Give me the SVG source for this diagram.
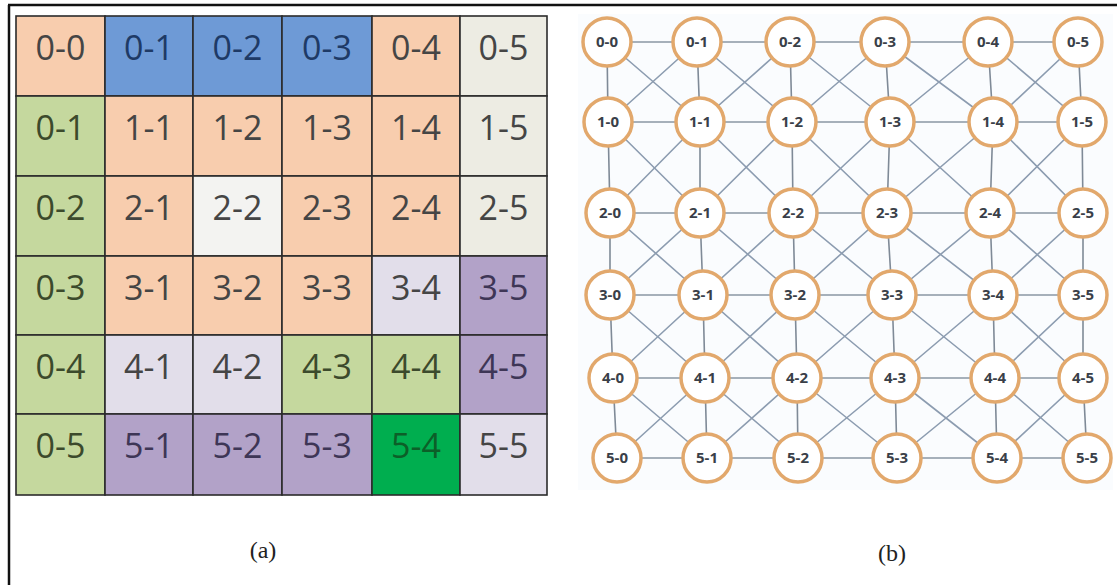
<svg xmlns="http://www.w3.org/2000/svg" width="1117" height="585" viewBox="0 0 1117 585">
<style>
.cell rect{stroke:#2b2b2b;stroke-width:1.6}
.cell text{font-family:"Open Sans","Noto Sans",sans-serif;font-size:34px;text-anchor:middle;fill:#454545}
.pe rect{fill:#F8CDAE}.bl rect{fill:#6E9AD6}.gr rect{fill:#C5D89E}.be rect{fill:#EDECE3}
.wh rect{fill:#F3F3F1}.lv rect{fill:#E2DEEA}.pu rect{fill:#B2A2C8}.bg rect{fill:#00AE4F}
.bl text{fill:#1E3A66}.gr text{fill:#3C4A2C}.pu text{fill:#3E3656}.bg text{fill:#0C5F28}
.node circle{fill:#ffffff;stroke:#E2A86C;stroke-width:3.5}
.node text{font-family:"Open Sans","Noto Sans",sans-serif;font-size:15px;font-weight:bold;text-anchor:middle;fill:#3a3f48}
.cap{font-family:"Liberation Serif",serif;font-size:24px;text-anchor:middle;fill:#222}
</style>
<rect width="1117" height="585" fill="#ffffff"/>
<line x1="8" y1="5" x2="1117" y2="5" stroke="#111" stroke-width="2.5"/>
<line x1="9" y1="5" x2="9" y2="585" stroke="#111" stroke-width="2.5"/>
<rect x="578" y="14" width="535" height="476" fill="#FAFCFE"/>
<g id="grid">
<g id="cell-r0-c0" class="cell pe"><rect x="16" y="16" width="89" height="80"/><text x="60.5" y="60">0-0</text></g>
<g id="cell-r0-c1" class="cell bl"><rect x="105" y="16" width="88" height="80"/><text x="149" y="60">0-1</text></g>
<g id="cell-r0-c2" class="cell bl"><rect x="193" y="16" width="89" height="80"/><text x="237.5" y="60">0-2</text></g>
<g id="cell-r0-c3" class="cell bl"><rect x="282" y="16" width="90" height="80"/><text x="327" y="60">0-3</text></g>
<g id="cell-r0-c4" class="cell pe"><rect x="372" y="16" width="88" height="80"/><text x="416" y="60">0-4</text></g>
<g id="cell-r0-c5" class="cell be"><rect x="460" y="16" width="87" height="80"/><text x="503.5" y="60">0-5</text></g>

<g id="cell-r1-c0" class="cell gr"><rect x="16" y="96" width="89" height="80"/><text x="60.5" y="140">0-1</text></g>
<g id="cell-r1-c1" class="cell pe"><rect x="105" y="96" width="88" height="80"/><text x="149" y="140">1-1</text></g>
<g id="cell-r1-c2" class="cell pe"><rect x="193" y="96" width="89" height="80"/><text x="237.5" y="140">1-2</text></g>
<g id="cell-r1-c3" class="cell pe"><rect x="282" y="96" width="90" height="80"/><text x="327" y="140">1-3</text></g>
<g id="cell-r1-c4" class="cell pe"><rect x="372" y="96" width="88" height="80"/><text x="416" y="140">1-4</text></g>
<g id="cell-r1-c5" class="cell be"><rect x="460" y="96" width="87" height="80"/><text x="503.5" y="140">1-5</text></g>

<g id="cell-r2-c0" class="cell gr"><rect x="16" y="176" width="89" height="80"/><text x="60.5" y="220">0-2</text></g>
<g id="cell-r2-c1" class="cell pe"><rect x="105" y="176" width="88" height="80"/><text x="149" y="220">2-1</text></g>
<g id="cell-r2-c2" class="cell wh"><rect x="193" y="176" width="89" height="80"/><text x="237.5" y="220">2-2</text></g>
<g id="cell-r2-c3" class="cell pe"><rect x="282" y="176" width="90" height="80"/><text x="327" y="220">2-3</text></g>
<g id="cell-r2-c4" class="cell pe"><rect x="372" y="176" width="88" height="80"/><text x="416" y="220">2-4</text></g>
<g id="cell-r2-c5" class="cell be"><rect x="460" y="176" width="87" height="80"/><text x="503.5" y="220">2-5</text></g>

<g id="cell-r3-c0" class="cell gr"><rect x="16" y="256" width="89" height="79"/><text x="60.5" y="300">0-3</text></g>
<g id="cell-r3-c1" class="cell pe"><rect x="105" y="256" width="88" height="79"/><text x="149" y="300">3-1</text></g>
<g id="cell-r3-c2" class="cell pe"><rect x="193" y="256" width="89" height="79"/><text x="237.5" y="300">3-2</text></g>
<g id="cell-r3-c3" class="cell pe"><rect x="282" y="256" width="90" height="79"/><text x="327" y="300">3-3</text></g>
<g id="cell-r3-c4" class="cell lv"><rect x="372" y="256" width="88" height="79"/><text x="416" y="300">3-4</text></g>
<g id="cell-r3-c5" class="cell pu"><rect x="460" y="256" width="87" height="79"/><text x="503.5" y="300">3-5</text></g>

<g id="cell-r4-c0" class="cell gr"><rect x="16" y="335" width="89" height="79"/><text x="60.5" y="379">0-4</text></g>
<g id="cell-r4-c1" class="cell lv"><rect x="105" y="335" width="88" height="79"/><text x="149" y="379">4-1</text></g>
<g id="cell-r4-c2" class="cell lv"><rect x="193" y="335" width="89" height="79"/><text x="237.5" y="379">4-2</text></g>
<g id="cell-r4-c3" class="cell gr"><rect x="282" y="335" width="90" height="79"/><text x="327" y="379">4-3</text></g>
<g id="cell-r4-c4" class="cell gr"><rect x="372" y="335" width="88" height="79"/><text x="416" y="379">4-4</text></g>
<g id="cell-r4-c5" class="cell pu"><rect x="460" y="335" width="87" height="79"/><text x="503.5" y="379">4-5</text></g>

<g id="cell-r5-c0" class="cell gr"><rect x="16" y="414" width="89" height="81"/><text x="60.5" y="458">0-5</text></g>
<g id="cell-r5-c1" class="cell pu"><rect x="105" y="414" width="88" height="81"/><text x="149" y="458">5-1</text></g>
<g id="cell-r5-c2" class="cell pu"><rect x="193" y="414" width="89" height="81"/><text x="237.5" y="458">5-2</text></g>
<g id="cell-r5-c3" class="cell pu"><rect x="282" y="414" width="90" height="81"/><text x="327" y="458">5-3</text></g>
<g id="cell-r5-c4" class="cell bg"><rect x="372" y="414" width="88" height="81"/><text x="416" y="458">5-4</text></g>
<g id="cell-r5-c5" class="cell lv"><rect x="460" y="414" width="87" height="81"/><text x="503.5" y="458">5-5</text></g>
</g>
<text class="cap" x="263" y="558">(a)</text>

<g id="connectors" fill="none" stroke="#8C9CB0" stroke-width="1.6">
<path d="M607 42 H1078 M608 122 H1082 M610 213 H1083 M610 295 H1083 M613 378 H1083 M617 458 H1087" stroke="#8A96A4"/>
<path d="M607 42 L608 122 L610 213 L610 295 L613 378 L617 458 M697 42 L700 122 L700 213 L703 295 L705 378 L707 458 M790 42 L792 122 L793 213 L795 295 L797 378 L798 458 M885 42 L890 122 L887 213 L892 295 L895 378 L897 458 M988 42 L993 122 L990 213 L993 295 L995 378 L997 458 M1078 42 L1082 122 L1083 213 L1083 295 L1083 378 L1087 458" stroke="#7F8A97"/>
<path d="M607 42 L700 122 M697 42 L792 122 M790 42 L890 122 M885 42 L993 122 M988 42 L1082 122 M608 122 L700 213 M700 122 L793 213 M792 122 L887 213 M890 122 L990 213 M993 122 L1083 213 M610 213 L703 295 M700 213 L795 295 M793 213 L892 295 M887 213 L993 295 M990 213 L1083 295 M610 295 L705 378 M703 295 L797 378 M795 295 L895 378 M892 295 L995 378 M993 295 L1083 378 M613 378 L707 458 M705 378 L798 458 M797 378 L897 458 M895 378 L997 458 M995 378 L1087 458"/>
<path d="M697 42 L608 122 M790 42 L700 122 M885 42 L792 122 M988 42 L890 122 M1078 42 L993 122 M700 122 L610 213 M792 122 L700 213 M890 122 L793 213 M993 122 L887 213 M1082 122 L990 213 M700 213 L610 295 M793 213 L703 295 M887 213 L795 295 M990 213 L892 295 M1083 213 L993 295 M703 295 L613 378 M795 295 L705 378 M892 295 L797 378 M993 295 L895 378 M1083 295 L995 378 M705 378 L617 458 M797 378 L707 458 M895 378 L798 458 M995 378 L897 458 M1083 378 L997 458"/>
</g>

<g id="nodes">
<g id="n-0-0" class="node"><circle cx="607" cy="42" r="24"/><text x="607" y="47">0-0</text></g>
<g id="n-0-1" class="node"><circle cx="697" cy="42" r="24"/><text x="697" y="47">0-1</text></g>
<g id="n-0-2" class="node"><circle cx="790" cy="42" r="24"/><text x="790" y="47">0-2</text></g>
<g id="n-0-3" class="node"><circle cx="885" cy="42" r="24"/><text x="885" y="47">0-3</text></g>
<g id="n-0-4" class="node"><circle cx="988" cy="42" r="24"/><text x="988" y="47">0-4</text></g>
<g id="n-0-5" class="node"><circle cx="1078" cy="42" r="24"/><text x="1078" y="47">0-5</text></g>

<g id="n-1-0" class="node"><circle cx="608" cy="122" r="24"/><text x="608" y="127">1-0</text></g>
<g id="n-1-1" class="node"><circle cx="700" cy="122" r="24"/><text x="700" y="127">1-1</text></g>
<g id="n-1-2" class="node"><circle cx="792" cy="122" r="24"/><text x="792" y="127">1-2</text></g>
<g id="n-1-3" class="node"><circle cx="890" cy="122" r="24"/><text x="890" y="127">1-3</text></g>
<g id="n-1-4" class="node"><circle cx="993" cy="122" r="24"/><text x="993" y="127">1-4</text></g>
<g id="n-1-5" class="node"><circle cx="1082" cy="122" r="24"/><text x="1082" y="127">1-5</text></g>

<g id="n-2-0" class="node"><circle cx="610" cy="213" r="24"/><text x="610" y="218">2-0</text></g>
<g id="n-2-1" class="node"><circle cx="700" cy="213" r="24"/><text x="700" y="218">2-1</text></g>
<g id="n-2-2" class="node"><circle cx="793" cy="213" r="24"/><text x="793" y="218">2-2</text></g>
<g id="n-2-3" class="node"><circle cx="887" cy="213" r="24"/><text x="887" y="218">2-3</text></g>
<g id="n-2-4" class="node"><circle cx="990" cy="213" r="24"/><text x="990" y="218">2-4</text></g>
<g id="n-2-5" class="node"><circle cx="1083" cy="213" r="24"/><text x="1083" y="218">2-5</text></g>

<g id="n-3-0" class="node"><circle cx="610" cy="295" r="24"/><text x="610" y="300">3-0</text></g>
<g id="n-3-1" class="node"><circle cx="703" cy="295" r="24"/><text x="703" y="300">3-1</text></g>
<g id="n-3-2" class="node"><circle cx="795" cy="295" r="24"/><text x="795" y="300">3-2</text></g>
<g id="n-3-3" class="node"><circle cx="892" cy="295" r="24"/><text x="892" y="300">3-3</text></g>
<g id="n-3-4" class="node"><circle cx="993" cy="295" r="24"/><text x="993" y="300">3-4</text></g>
<g id="n-3-5" class="node"><circle cx="1083" cy="295" r="24"/><text x="1083" y="300">3-5</text></g>

<g id="n-4-0" class="node"><circle cx="613" cy="378" r="24"/><text x="613" y="383">4-0</text></g>
<g id="n-4-1" class="node"><circle cx="705" cy="378" r="24"/><text x="705" y="383">4-1</text></g>
<g id="n-4-2" class="node"><circle cx="797" cy="378" r="24"/><text x="797" y="383">4-2</text></g>
<g id="n-4-3" class="node"><circle cx="895" cy="378" r="24"/><text x="895" y="383">4-3</text></g>
<g id="n-4-4" class="node"><circle cx="995" cy="378" r="24"/><text x="995" y="383">4-4</text></g>
<g id="n-4-5" class="node"><circle cx="1083" cy="378" r="24"/><text x="1083" y="383">4-5</text></g>

<g id="n-5-0" class="node"><circle cx="617" cy="458" r="24"/><text x="617" y="463">5-0</text></g>
<g id="n-5-1" class="node"><circle cx="707" cy="458" r="24"/><text x="707" y="463">5-1</text></g>
<g id="n-5-2" class="node"><circle cx="798" cy="458" r="24"/><text x="798" y="463">5-2</text></g>
<g id="n-5-3" class="node"><circle cx="897" cy="458" r="24"/><text x="897" y="463">5-3</text></g>
<g id="n-5-4" class="node"><circle cx="997" cy="458" r="24"/><text x="997" y="463">5-4</text></g>
<g id="n-5-5" class="node"><circle cx="1087" cy="458" r="24"/><text x="1087" y="463">5-5</text></g>
</g>
<text class="cap" x="892" y="561">(b)</text>
</svg>
